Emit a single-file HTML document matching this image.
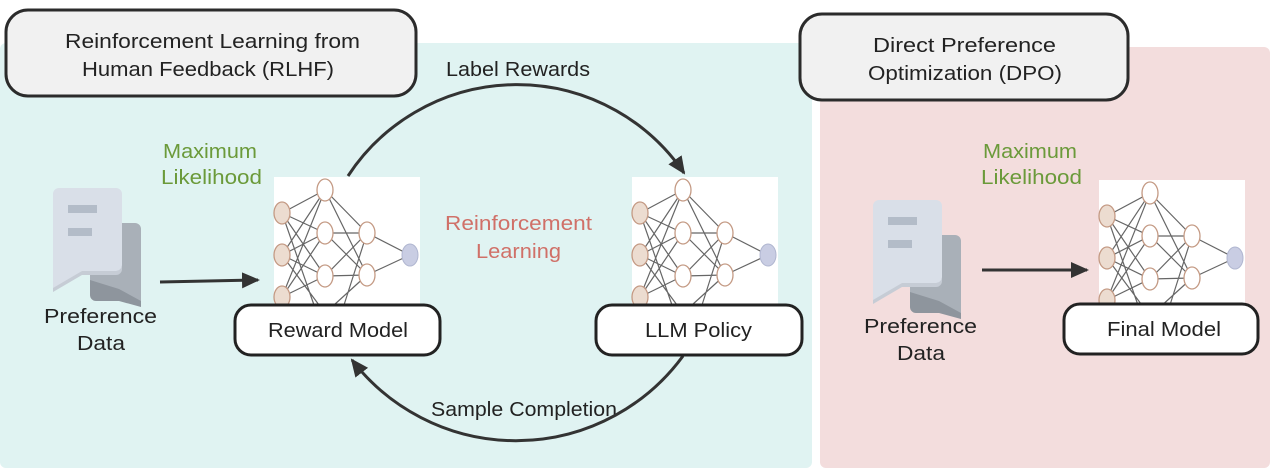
<!DOCTYPE html>
<html><head><style>
body{margin:0;width:1276px;height:468px;overflow:hidden;background:#fff}
</style></head><body>
<svg width="1276" height="468" viewBox="0 0 1276 468" xmlns="http://www.w3.org/2000/svg" font-family="Liberation Sans, sans-serif" font-size="20">
<defs>
<marker id="ah2" markerWidth="18" markerHeight="16" refX="16" refY="8" orient="auto" markerUnits="userSpaceOnUse" viewBox="0 0 18 16">
<path d="M0,0 L18,8 L0,16 z" fill="#333"/></marker>
<g id="net">
<rect x="0" y="0" width="146" height="128" fill="#fff"/>
<g stroke="#666" stroke-width="1.2">
<path d="M8,36 L51,13 M8,36 L51,56 M8,36 L51,99 M8,78 L51,13 M8,78 L51,56 M8,78 L51,99 M8,120 L51,13 M8,120 L51,56 M8,120 L51,99 M8,36 L40,128 M8,78 L45,128"/>
<path d="M51,13 L93,56 M51,13 L93,98 M51,56 L93,56 M51,56 L93,98 M51,99 L93,56 M51,99 L93,98 M60,128 L93,98 M70,128 L93,56"/>
<path d="M93,56 L136,78 M93,98 L136,78"/>
</g>
<g stroke="#c49a84" stroke-width="1.3">
<ellipse cx="8" cy="36" rx="8" ry="11" fill="#ecdcd0"/>
<ellipse cx="8" cy="78" rx="8" ry="11" fill="#ecdcd0"/>
<ellipse cx="8" cy="120" rx="8" ry="11" fill="#ecdcd0"/>
<ellipse cx="51" cy="13" rx="8" ry="11" fill="#fff"/>
<ellipse cx="51" cy="56" rx="8" ry="11" fill="#fff"/>
<ellipse cx="51" cy="99" rx="8" ry="11" fill="#fff"/>
<ellipse cx="93" cy="56" rx="8" ry="11" fill="#fff"/>
<ellipse cx="93" cy="98" rx="8" ry="11" fill="#fff"/>
</g>
<ellipse cx="136" cy="78" rx="8" ry="11" fill="#c9cde3" stroke="#b0b6d0"/>
</g>
<g id="icon">
<path d="M90,223 h45 a6,6 0 0 1 6,6 v78 l-22,-14 h-23 a6,6 0 0 1 -6,-6z" fill="#a9b0b8"/>
<path d="M90,280 h0 v15 a6,6 0 0 0 6,6 h23 l22,6 v-6 l-22,-12z" fill="#8e959d"/>
<path d="M59,188 h57 a6,6 0 0 1 6,6 v71 a6,6 0 0 1 -6,6 h-34 l-29,20 v-97 a6,6 0 0 1 6,-6z" fill="#d9dfe8"/>
<path d="M53,288 l29,-17 h34 a6,6 0 0 0 6,-6 v4 a6,6 0 0 1 -6,6 h-34 l-29,17z" fill="#c6ccd5"/>
<rect x="68" y="205" width="29" height="8" fill="#b3bcc8"/>
<rect x="68" y="228" width="24" height="8" fill="#b3bcc8"/>
</g>
</defs>
<rect x="0" y="43" width="812" height="425" rx="6" fill="#e0f3f2"/>
<rect x="820" y="47" width="450" height="421" rx="6" fill="#f3dddd"/>
<rect x="6" y="10" width="410" height="86" rx="22" fill="#f1f1f1" stroke="#2b2b2b" stroke-width="3"/>
<text x="65" y="48" textLength="295" lengthAdjust="spacingAndGlyphs" fill="#222">Reinforcement Learning from</text>
<text x="82" y="76" textLength="252" lengthAdjust="spacingAndGlyphs" fill="#222">Human Feedback (RLHF)</text>
<rect x="800" y="14" width="328" height="86" rx="22" fill="#f1f1f1" stroke="#2b2b2b" stroke-width="3"/>
<text x="873" y="52" textLength="183" lengthAdjust="spacingAndGlyphs" fill="#222">Direct Preference</text>
<text x="868" y="80" textLength="194" lengthAdjust="spacingAndGlyphs" fill="#222">Optimization (DPO)</text>
<use href="#icon"/>
<use href="#icon" transform="translate(820,12)"/>
<text x="44" y="323" textLength="113" lengthAdjust="spacingAndGlyphs" fill="#222">Preference</text>
<text x="77" y="350" textLength="48" lengthAdjust="spacingAndGlyphs" fill="#222">Data</text>
<text x="864" y="333" textLength="113" lengthAdjust="spacingAndGlyphs" fill="#222">Preference</text>
<text x="897" y="360" textLength="48" lengthAdjust="spacingAndGlyphs" fill="#222">Data</text>
<text x="163" y="158" textLength="94" lengthAdjust="spacingAndGlyphs" fill="#6b9a3a">Maximum</text>
<text x="161" y="184" textLength="101" lengthAdjust="spacingAndGlyphs" fill="#6b9a3a">Likelihood</text>
<text x="983" y="158" textLength="94" lengthAdjust="spacingAndGlyphs" fill="#6b9a3a">Maximum</text>
<text x="981" y="184" textLength="101" lengthAdjust="spacingAndGlyphs" fill="#6b9a3a">Likelihood</text>
<text x="445" y="230" textLength="147" lengthAdjust="spacingAndGlyphs" fill="#d07068">Reinforcement</text>
<text x="476" y="258" textLength="85" lengthAdjust="spacingAndGlyphs" fill="#d07068">Learning</text>
<text x="446" y="76" textLength="144" lengthAdjust="spacingAndGlyphs" fill="#222">Label Rewards</text>
<text x="431" y="416" textLength="186" lengthAdjust="spacingAndGlyphs" fill="#222">Sample Completion</text>
<use href="#net" transform="translate(274,177)"/>
<use href="#net" transform="translate(632,177)"/>
<use href="#net" transform="translate(1099,180)"/>
<path d="M348,176 A202,202 0 0 1 684,173" fill="none" stroke="#333" stroke-width="3" marker-end="url(#ah2)"/>
<path d="M683,356 A207,207 0 0 1 352,360" fill="none" stroke="#333" stroke-width="3" marker-end="url(#ah2)"/>
<line x1="160" y1="282" x2="258" y2="280" stroke="#333" stroke-width="3" marker-end="url(#ah2)"/>
<line x1="982" y1="270" x2="1087" y2="270" stroke="#333" stroke-width="3" marker-end="url(#ah2)"/>
<rect x="235" y="305" width="205" height="50" rx="16" fill="#fff" stroke="#222" stroke-width="3"/>
<text x="268" y="337" textLength="140" lengthAdjust="spacingAndGlyphs" fill="#222">Reward Model</text>
<rect x="596" y="305" width="206" height="50" rx="16" fill="#fff" stroke="#222" stroke-width="3"/>
<text x="645" y="337" textLength="107" lengthAdjust="spacingAndGlyphs" fill="#222">LLM Policy</text>
<rect x="1064" y="304" width="194" height="50" rx="16" fill="#fff" stroke="#222" stroke-width="3"/>
<text x="1107" y="336" textLength="114" lengthAdjust="spacingAndGlyphs" fill="#222">Final Model</text>
</svg>
</body></html>
